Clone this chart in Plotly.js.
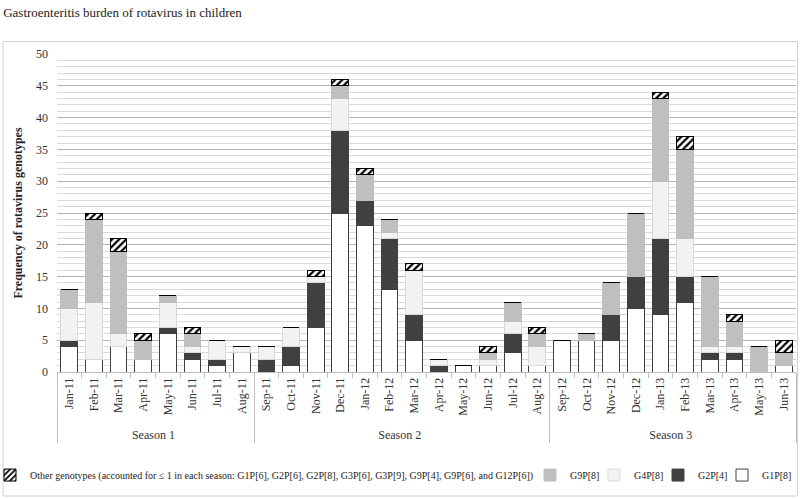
<!DOCTYPE html>
<html>
<head>
<meta charset="utf-8">
<script src="https://cdn.plot.ly/plotly-3.0.1.min.js"></script>
<style>
  html, body { margin: 0; padding: 0; background: #fff; }
  #RotaChart { width: 800px; height: 499px; }
</style>
</head>
<body>
<div id="RotaChart"></div>
<script>
"use strict"; //strict

/******************************** Data *********************************/

var months = ['Jan-11', 'Feb-11', 'Mar-11', 'Apr-11', 'May-11', 'Jun-11', 'Jul-11', 'Aug-11',
              'Sep-11', 'Oct-11', 'Nov-11', 'Dec-11', 'Jan-12', 'Feb-12', 'Mar-12', 'Apr-12',
              'May-12', 'Jun-12', 'Jul-12', 'Aug-12',
              'Sep-12', 'Oct-12', 'Nov-12', 'Dec-12', 'Jan-13', 'Feb-13', 'Mar-13', 'Apr-13',
              'May-13', 'Jun-13'];
var seasonNames = ['Season 1', 'Season 2', 'Season 3'];
var seasonLengths = [8, 12, 10];

var g1p8  = [4, 2, 4, 2, 6, 2, 1, 3,  0, 1, 7, 25, 23, 13, 5, 0, 1, 1, 3, 1,  5, 5, 5, 10, 9, 11, 2, 2, 0, 1];
var g2p4  = [1, 0, 0, 0, 1, 1, 1, 0,  2, 3, 7, 13, 4, 8, 4, 1, 0, 0, 3, 0,  0, 0, 4, 5, 12, 4, 1, 1, 0, 0];
var g4p8  = [5, 9, 2, 0, 4, 1, 3, 1,  2, 3, 1, 5, 0, 1, 7, 1, 0, 1, 2, 3,  0, 0, 0, 0, 9, 6, 1, 1, 0, 0];
var g9p8  = [3, 13, 13, 3, 1, 2, 0, 0,  0, 0, 0, 2, 4, 2, 0, 0, 0, 1, 3, 2,  0, 1, 5, 10, 13, 14, 11, 4, 4, 2];
var other = [0, 1, 2, 1, 0, 1, 0, 0,  0, 0, 1, 1, 1, 0, 1, 0, 0, 1, 0, 1,  0, 0, 0, 0, 1, 2, 0, 1, 0, 2];

var otherLabel = 'Other genotypes (accounted for \u2264 1 in each season: G1P[6], G2P[6], G2P[8], ' +
                 'G3P[6], G3P[9], G9P[4], G9P[6], and G12P[6])';

/****** season of every month (outer level of the axis) ******/
var seasons = [];
for (var s = 0; s < seasonNames.length; s++) {
  for (var k = 0; k < seasonLengths[s]; k++) seasons.push(seasonNames[s]);
}
var xCats = [seasons, months];

/******************************** Traces *********************************/

function bar(name, values, fill, edge, legendId) {
  return {
    type: 'bar',
    name: name,
    x: xCats,
    y: values,
    legend: legendId,
    marker: { color: fill, line: { color: edge, width: 1 } },
    hoverinfo: 'skip'
  };
}

var data = [
  bar('G1P[8]', g1p8, '#ffffff', '#404040', 'legend5'),
  bar('G2P[4]', g2p4, '#404040', '#404040', 'legend4'),
  bar('G4P[8]', g4p8, '#f2f2f2', '#d9d9d9', 'legend3'),
  bar('G9P[8]', g9p8, '#bfbfbf', '#bfbfbf', 'legend2'),
  bar(otherLabel, other, '#ffffff', '#000000', 'legend')
];
data[4].marker.pattern = { shape: '/', fgcolor: '#000000', bgcolor: '#ffffff', size: 5, solidity: 0.45 };

/******************************** Layout *********************************/

var serif = 'Liberation Serif, Times New Roman, serif';

/****** one small legend per entry, so the row can sit tight ******/
function legendAt(px, indent) {
  return {
    orientation: 'h',
    xref: 'container', yref: 'container',
    x: px / 800, xanchor: 'left',
    y: 0.048, yanchor: 'middle',
    font: { family: serif, size: 10, color: '#222222' },
    itemwidth: 30,
    indentation: indent,
    bgcolor: 'rgba(0,0,0,0)'
  };
}

var layout = {
  width: 800,
  height: 499,
  margin: { l: 57, r: 4, t: 54, b: 127 },
  paper_bgcolor: '#ffffff',
  plot_bgcolor: '#ffffff',
  font: { family: serif, size: 12, color: '#333333' },
  barmode: 'stack',
  bargap: 0.32,
  hovermode: false,
  showlegend: true,
  title: {
    text: 'Gastroenteritis burden of rotavirus in children',
    font: { family: serif, size: 13, color: '#222222' },
    x: 0.004, xanchor: 'left', xref: 'container',
    y: 0.975, yanchor: 'middle', yref: 'container'
  },
  xaxis: {
    type: 'multicategory',
    tickangle: -90,
    tickfont: { family: serif, size: 12, color: '#333333' },
    showline: true, linecolor: '#bfbfbf', linewidth: 1,
    ticks: 'outside', ticklen: 5, tickcolor: '#bfbfbf',
    showdividers: true, dividercolor: '#bfbfbf', dividerwidth: 1,
    showgrid: false,
    fixedrange: true
  },
  yaxis: {
    range: [0, 50],
    dtick: 5,
    tickfont: { family: serif, size: 12, color: '#333333' },
    gridcolor: '#b4b4b4',
    minor: { dtick: 1, showgrid: true, gridcolor: '#dadada', gridwidth: 1 },
    zeroline: false,
    showline: false,
    ticklabelstandoff: 8,
    title: {
      text: '<b>Frequency of rotavirus genotypes</b>',
      font: { family: serif, size: 12, color: '#222222' },
      standoff: 10
    },
    fixedrange: true
  },
  legend: legendAt(0, -10),
  legend2: legendAt(530, 0),
  legend3: legendAt(594, 0),
  legend4: legendAt(658, 0),
  legend5: legendAt(722, 0),
  shapes: [
    {                                             /****** chart area frame ******/
      type: 'rect', xref: 'paper', yref: 'paper',
      x0: -0.073, x1: 1.002, y0: -0.39, y1: 1.039,
      line: { color: '#d0d0d0', width: 1 },
      fillcolor: 'rgba(0,0,0,0)'
    }
  ]
};

Plotly.newPlot('RotaChart', data, layout, { displayModeBar: false, staticPlot: true });
</script>
</body>
</html>
